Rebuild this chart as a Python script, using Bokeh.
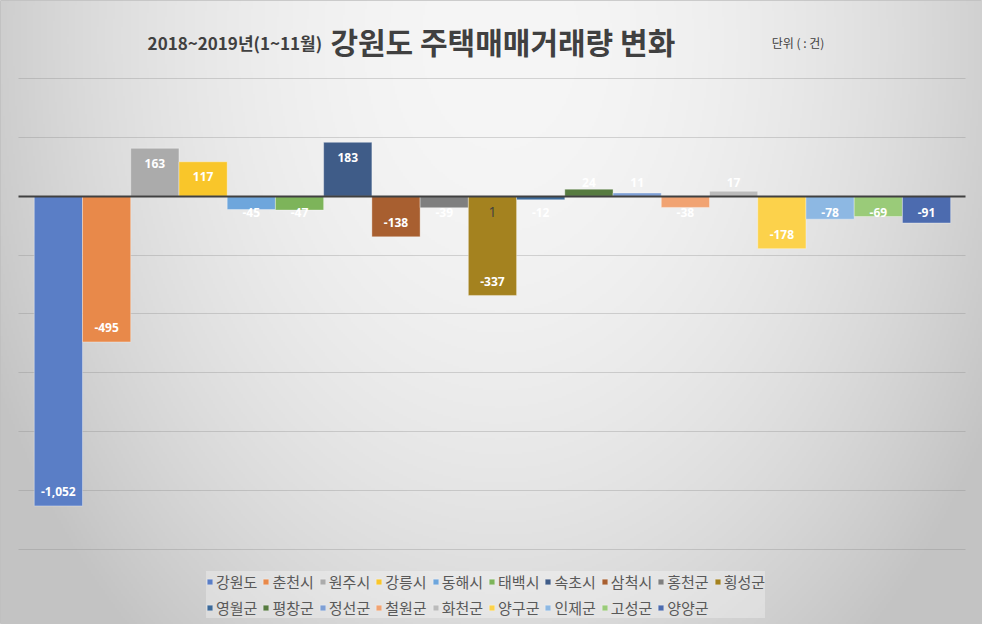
import numpy as np
from bokeh.plotting import figure
from bokeh.models import ColumnDataSource, Range1d, Grid, FixedTicker, LabelSet, Label
from bokeh.core.properties import value
from bokeh.embed import file_html
from bokeh.resources import INLINE

# ---------------- data ----------------
regions = ["강원도", "춘천시", "원주시", "강릉시", "동해시", "태백시", "속초시", "삼척시", "홍천군", "횡성군",
           "영월군", "평창군", "정선군", "철원군", "화천군", "양구군", "인제군", "고성군", "양양군"]
changes = [-1052, -495, 163, 117, -45, -47, 183, -138, -39, -337,
           -12, 24, 11, -38, 17, -178, -78, -69, -91]
colors = ["#5A7EC6", "#E8894A", "#ABABAB", "#F9C62A", "#6EA6DC", "#7DB45A", "#3F5C88", "#A85F30", "#7F7F7F", "#A4821F",
          "#3C6A9A", "#577B40", "#7E9FD5", "#F1A372", "#BBBBBB", "#FCD24B", "#8DB8E3", "#9ACB79", "#4C6BAF"]
grid_ticks = [-1200, -1000, -800, -600, -400, -200, 200, 400]
zero_tick = [0]
title_period = "2018~2019년(1~11월)"
title_main = "강원도 주택매매거래량 변화"
unit_note = "단위 ( : 건)"
stray_label = "1"

# ---------------- layout ----------------
W, H = 982, 624
Y0, Y1 = -1455, 665
X0, X1 = -1.20, 19.16
px = H / (Y1 - Y0)  # pixels per unit

p = figure(width=W, height=H, x_range=Range1d(X0, X1), y_range=Range1d(Y0, Y1),
           x_axis_type=None, y_axis_type=None, output_backend="svg", toolbar_location=None,
           min_border=0, background_fill_color="white", border_fill_color="white",
           outline_line_color="#BFBFBF")

# background gradient (decorative)
gh, gw = H // 2, W // 2
fy = (np.arange(gh) + 0.5) / gh
fx = (np.arange(gw) + 0.5) / gw
XX = fx[None, :] * W
YT = (1 - fy[:, None]) * H
r2 = ((XX - 500) / 500) ** 2 + ((YT - 40) / 700) ** 2
L = np.clip(246 - 40 * r2, 195, 246).astype(np.uint32)
img = (np.uint32(255) << np.uint32(24)) | (L << np.uint32(16)) | (L << np.uint32(8)) | L
p.image_rgba(image=[img], x=X0, y=Y0, dw=X1 - X0, dh=Y1 - Y0, level="image")

# grid lines
g = Grid(dimension=1, ticker=FixedTicker(ticks=grid_ticks), grid_line_color="#808080", grid_line_alpha=0.3)
if "cross_bounds" in Grid.properties():
    g.cross_bounds = (-0.83, 18.81)
p.add_layout(g)

n = len(regions)
xs = list(range(n))
lab_y = [max(v - 15 / px, 14 / px) if v > 0 else min(v + 14 / px, -16 / px) for v in changes]
src = ColumnDataSource(dict(x=xs, name=regions, v=changes, color=colors,
                            txt=[f"{v:,}" for v in changes], ly=lab_y))

p.vbar(x="x", top="v", bottom=0, width=1.0, fill_color="color", line_color="white",
       line_alpha=0.35, source=src, legend_field="name")

zg = Grid(dimension=1, ticker=FixedTicker(ticks=zero_tick), grid_line_color="#404040",
          grid_line_width=2, level="annotation")
if "cross_bounds" in Grid.properties():
    zg.cross_bounds = (-0.83, 18.81)
p.add_layout(zg)

labels = LabelSet(x="x", y="ly", text="txt", source=src, text_align="center", text_baseline="middle",
                  text_color="white", text_font=value("Open Sans"), text_font_style="bold",
                  text_font_size="12px")
p.add_layout(labels)

p.add_layout(Label(x=regions.index("횡성군"), y=-16 / px, text=stray_label, text_align="center",
                   text_baseline="middle", text_color="#404040", text_font="Open Sans",
                   text_font_size="14px"))

# titles
p.add_layout(Label(x=1.85, y=521, text=title_period, text_align="left", text_baseline="middle",
                   text_color="#404040", text_font="Noto Sans CJK KR", text_font_style="bold",
                   text_font_size="17px"))
p.add_layout(Label(x=5.64, y=528, text=title_main, text_align="left", text_baseline="middle",
                   text_color="#404040", text_font="Noto Sans CJK KR", text_font_style="bold",
                   text_font_size="30px"))
p.add_layout(Label(x=14.79, y=521, text=unit_note, text_align="left", text_baseline="middle",
                   text_color="#404040", text_font="Noto Sans CJK KR", text_font_size="12px"))

# legend
leg = p.legend[0]
leg.location = (206, 6)
leg.orientation = "horizontal"
if "ncols" in leg.properties():
    leg.ncols = 10
leg.glyph_width = 7
leg.glyph_height = 7
leg.label_standoff = 3
leg.spacing = 5
leg.padding = 4
leg.margin = 0
leg.label_height = 20
leg.label_text_font = "Noto Sans CJK KR"
leg.label_text_font_size = "15px"
leg.label_text_color = "#595959"
leg.background_fill_color = "white"
leg.background_fill_alpha = 0.3
leg.border_line_color = None

open("out.html", "w").write(file_html(p, INLINE))
